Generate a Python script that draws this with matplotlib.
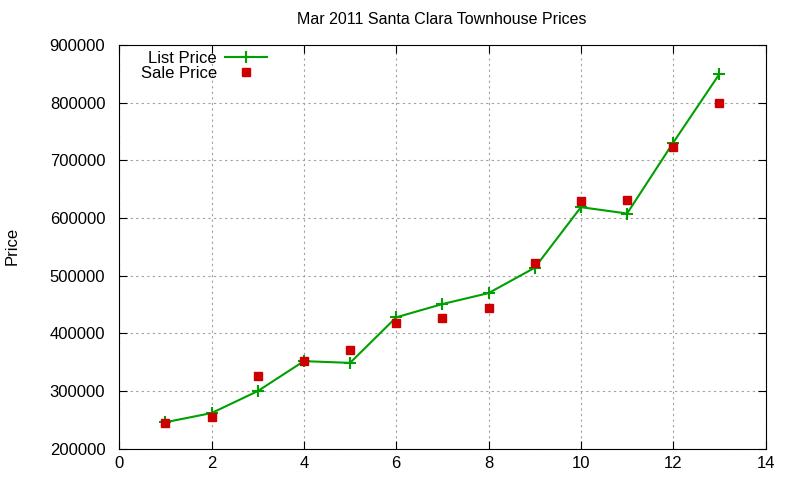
import matplotlib.pyplot as plt

plt.rcParams['font.family'] = ['Liberation Sans', 'DejaVu Sans']

x = [1, 2, 3, 4, 5, 6, 7, 8, 9, 10, 11, 12, 13]
list_price = [246000, 262000, 300000, 352000, 349000, 428000, 451000, 470000,
              514000, 619000, 608000, 731000, 850000]
sale_price = [245000, 256000, 326000, 353000, 371000, 419000, 426000, 445000,
              523000, 630000, 632000, 723000, 800000]

fig = plt.figure(figsize=(8, 4.8), dpi=100)
ax = fig.add_axes([0.149, 0.065, 0.808, 0.841])

ax.plot(x, list_price, color='#00a000', lw=1.5, marker='+', ms=8, mew=1.5,
        label='List Price')
ax.plot(x, sale_price, ls='none', color='#cc0000', marker='s', ms=6,
        label='Sale Price')

ax.set_xlim(0, 14)
ax.set_ylim(200000, 900000)
ax.set_xticks(range(0, 15, 2))
ax.set_yticks(range(200000, 900001, 100000))
ax.tick_params(direction='in', top=True, right=True, labelsize=12, length=6)
ax.tick_params(axis='y', pad=10)
ax.tick_params(axis='x', pad=5)
ax.grid(True, color='#a0a0a0', ls=(0, (2, 3)), lw=0.8)
ax.set_axisbelow(True)

fig.text(0.5 * (119 + 765) / 800, 1 - 20 / 480, 'Mar 2011 Santa Clara Townhouse Prices',
         fontsize=11.5, ha='center', va='center')
fig.text(12 / 800, 1 - 246 / 480, 'Price', fontsize=12, rotation=90,
         ha='center', va='center')

leg = ax.legend(loc='upper right', bbox_to_anchor=(267 / 800, 1 - 51 / 480),
                bbox_transform=fig.transFigure, markerfirst=False,
                frameon=False, fontsize=12, handlelength=2.5, borderaxespad=0,
                borderpad=0, labelspacing=0.0, handletextpad=0.5)
for t in leg.get_texts():
    t.set_ha('right')
leg._legend_box.align = 'right'

fig.savefig('out.png', dpi=100)
